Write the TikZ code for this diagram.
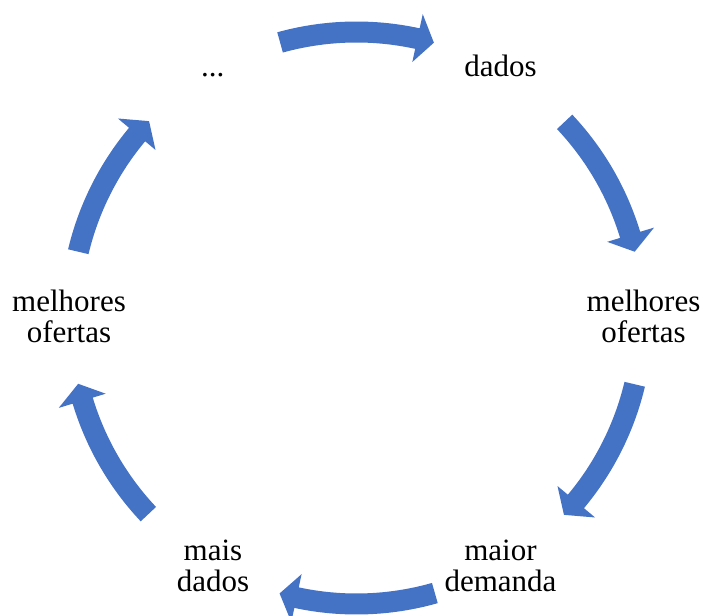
\documentclass[tikz,border=0pt]{standalone}
\usepackage{fontspec}
\setmainfont{Liberation Serif}
\definecolor{arrowblue}{HTML}{4472C4}
% tail angle, head base angle, tip angle
\newcommand\cycarrow[3]{%
  \fill[cyc] ([shift={(#1:296.5pt)}]c) arc[start angle=#1, end angle=#2, radius=296.5pt]
    -- ([shift={(#2:311pt)}]c) -- ([shift={(#3:286pt)}]c) -- ([shift={(#2:262pt)}]c)
    -- ([shift={(#2:275.5pt)}]c) arc[start angle=#2, end angle=#1, radius=275.5pt] -- cycle;}
\begin{document}
\begin{tikzpicture}[x=1pt,y=1pt,
  lbl/.style={font=\fontsize{31}{31.5}\selectfont, align=center, inner sep=0pt},
  cyc/.style={fill=arrowblue, draw=none}]
\useasboundingbox (0,0) rectangle (705,616);
\coordinate (c) at (356.5,298);
% labels
\node[lbl, anchor=base]  (dots)   at (212.7,539) {...};
\node[lbl, anchor=base]  (dados)  at (500.5,539) {dados};
\node[lbl, anchor=north] (rof)    at (643.5,326.5) {melhores\\ofertas};
\node[lbl, anchor=north] (maior)  at (500.5,76.5) {maior\\demanda};
\node[lbl, anchor=north] (mais)   at (213,76.5) {mais\\dados};
\node[lbl, anchor=north] (lof)    at (69,326.5) {melhores\\ofertas};
% cycle arrows
\cycarrow{105.5}{77.7}{74.3}
\cycarrow{43.3}{16.9}{13.4}
\cycarrow{-13.4}{-39.9}{-43.5}
\cycarrow{-74.1}{-102.1}{-105.6}
\cycarrow{223.3}{196.8}{193.3}
\cycarrow{166.6}{140.1}{136.5}
\end{tikzpicture}
\end{document}
